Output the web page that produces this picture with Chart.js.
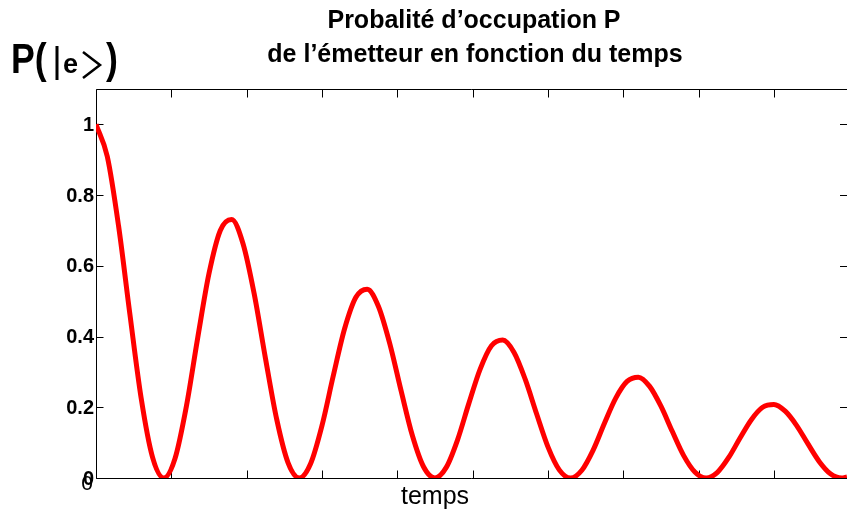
<!DOCTYPE html>
<html>
<head>
<meta charset="utf-8">
<script src="https://cdn.jsdelivr.net/npm/chart.js@4/dist/chart.umd.min.js"></script>
<style>
  html, body { margin: 0; padding: 0; background: #fff; }
  canvas { display: block; }
</style>
</head>
<body>
<canvas id="rabi" width="847" height="511"></canvas>
<script>
// Probabilité d'occupation de l'état excité |e> au cours du temps

const TIMES = [
  0, 0.15, 0.3, 0.45, 0.6, 0.75, 0.9, 1.05, 1.2, 1.35, 1.5, 1.65,
  1.8, 1.95, 2.1, 2.25, 2.4, 2.55, 2.7, 2.85, 3.0, 3.15, 3.3, 3.45,
  3.6, 3.75, 3.9, 4.05, 4.2, 4.35, 4.5, 4.65, 4.8, 4.95, 5.1, 5.25,
  5.4, 5.55, 5.7, 5.85, 6.0, 6.15, 6.3, 6.45, 6.6, 6.75, 6.9, 7.05,
  7.2, 7.35, 7.5, 7.65, 7.8, 7.95, 8.1, 8.25, 8.4, 8.55, 8.7, 8.85,
  9.0, 9.15, 9.3, 9.45, 9.6, 9.75, 9.9, 9.97
];

const PROBA = [
  1.000, 0.909, 0.712, 0.463, 0.225, 0.059,
  0.000, 0.056, 0.203, 0.396, 0.578, 0.700,
  0.731, 0.664, 0.521, 0.338, 0.165, 0.043,
  0.000, 0.041, 0.148, 0.289, 0.422, 0.511,
  0.534, 0.485, 0.380, 0.247, 0.120, 0.031,
  0.000, 0.030, 0.108, 0.211, 0.308, 0.374,
  0.390, 0.355, 0.278, 0.181, 0.088, 0.023,
  0.000, 0.022, 0.079, 0.155, 0.226, 0.273,
  0.285, 0.259, 0.203, 0.132, 0.064, 0.017,
  0.000, 0.016, 0.058, 0.113, 0.165, 0.200,
  0.208, 0.189, 0.149, 0.097, 0.047, 0.012,
  0.000, 0.003
];

const X_TICKS = [0, 1, 2, 3, 4, 5, 6, 7, 8, 9];
const Y_TICKS = [0, 0.2, 0.4, 0.6, 0.8, 1];
const Y_LABELS = ['0', '0.2', '0.4', '0.6', '0.8', '1'];
const X_LABELS = ['0'];

const TITLE = ['Probalité d’occupation P', 'de l’émetteur en fonction du temps'];
const X_TITLE = 'temps';

const FONT = '"Liberation Sans", Arial, Helvetica, sans-serif';

// cadre façon matlab : axes gauche/bas, bord haut, graduations vers l'intérieur
const framePlugin = {
  id: 'frame',
  beforeDatasetsDraw(chart) {
    const { ctx, chartArea: a, scales: { x, y } } = chart;
    ctx.save();
    ctx.strokeStyle = '#000';
    ctx.lineWidth = 1;
    const L = Math.round(a.left) + 0.5, B = Math.round(a.bottom) + 0.5;
    const T = Math.round(a.top) + 0.5, R = a.right;
    ctx.beginPath();
    ctx.moveTo(L, T); ctx.lineTo(L, B); ctx.lineTo(R, B);
    ctx.moveTo(L, T); ctx.lineTo(R, T);
    X_TICKS.forEach(v => {
      const px = Math.round(x.getPixelForValue(v)) + 0.5;
      ctx.moveTo(px, B); ctx.lineTo(px, B - 8);
      ctx.moveTo(px, T); ctx.lineTo(px, T + 8);
    });
    Y_TICKS.forEach(v => {
      const py = Math.round(y.getPixelForValue(v)) + 0.5;
      ctx.moveTo(L, py); ctx.lineTo(L + 7, py);
      ctx.moveTo(R, py); ctx.lineTo(R - 7, py);
    });
    ctx.stroke();
    ctx.restore();
  },
  afterDraw(chart) {
    const { ctx, chartArea: a, scales: { x, y } } = chart;
    ctx.save();
    ctx.fillStyle = '#000';

    // graduations y
    ctx.font = `bold 20px ${FONT}`;
    ctx.textAlign = 'right';
    ctx.textBaseline = 'middle';
    Y_TICKS.forEach((v, i) => ctx.fillText(Y_LABELS[i], a.left - 2, y.getPixelForValue(v) + 1));

    // graduation x (seulement l'origine)
    ctx.font = `21px ${FONT}`;
    ctx.textAlign = 'center';
    ctx.textBaseline = 'top';
    X_LABELS.forEach((lbl, i) => ctx.fillText(lbl, x.getPixelForValue(X_TICKS[i]) - 9, a.bottom - 4));

    // titre
    ctx.font = `bold 25px ${FONT}`;
    ctx.textBaseline = 'alphabetic';
    ctx.fillText(TITLE[0], 474, 28);
    ctx.fillText(TITLE[1], 475, 62);

    // légende axe x
    ctx.font = `25px ${FONT}`;
    ctx.fillText(X_TITLE, 435, 504);

    // P(|e>)
    ctx.textAlign = 'left';
    ctx.save();
    ctx.scale(0.85, 1);
    ctx.font = `bold 42px ${FONT}`;
    ctx.fillText('P(', 11 / 0.85, 73);
    ctx.fillText(')', 106 / 0.85, 73);
    ctx.restore();
    ctx.fillRect(55.5, 46, 3, 34);
    ctx.font = `bold 27px ${FONT}`;
    ctx.fillText('e', 63, 73);
    ctx.lineWidth = 2.5;
    ctx.beginPath();
    ctx.moveTo(83, 52); ctx.lineTo(100, 65); ctx.lineTo(83, 78);
    ctx.stroke();

    ctx.restore();
  }
};

new Chart(document.getElementById('rabi'), {
  type: 'line',
  data: {
    datasets: [{
      data: TIMES.map((t, i) => ({ x: t, y: PROBA[i] })),
      borderColor: '#ff0000',
      borderWidth: 5,
      pointRadius: 0,
      fill: false,
      cubicInterpolationMode: 'monotone'
    }]
  },
  options: {
    responsive: false,
    animation: false,
    layout: { padding: { left: 96, top: 89, right: 0, bottom: 33 } },
    plugins: { legend: { display: false }, tooltip: { enabled: false } },
    scales: {
      x: { type: 'linear', min: 0, max: 9.97, display: false },
      y: { min: 0, max: 1.1, display: false }
    }
  },
  plugins: [framePlugin]
});
</script>
</body>
</html>
